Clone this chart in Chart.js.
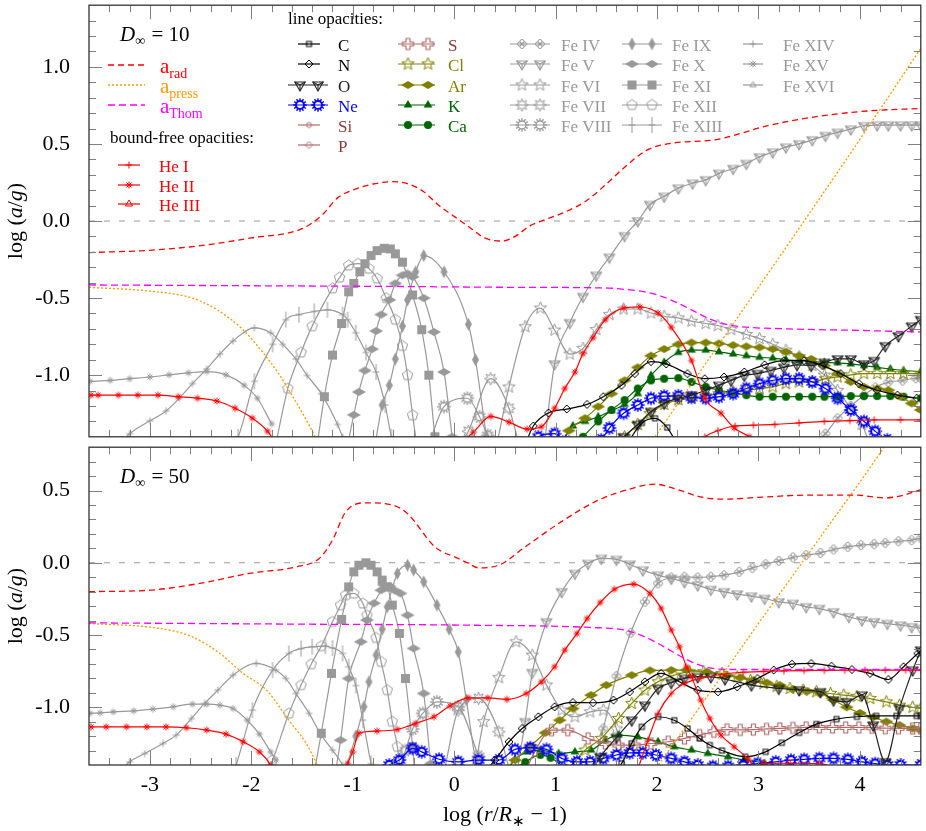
<!DOCTYPE html>
<html><head><meta charset="utf-8">
<script src="https://cdn.jsdelivr.net/npm/chart.js@4.4.0/dist/chart.umd.min.js"></script>
<style>
html,body{margin:0;padding:0;background:#fff;overflow:hidden}
#wrap{position:relative;width:926px;height:831px;background:#fff}
canvas{position:absolute;left:0}
#c1{top:0}
#c2{top:442px}
</style></head><body>
<div id="wrap"><canvas id="c1" width="926" height="442"></canvas><canvas id="c2" width="926" height="389"></canvas></div>
<script>
// ---------- tick labels / categories ----------
const xTicks = [-3,-2,-1,0,1,2,3,4];
const yTicksTop = [-1.0,-0.5,0.0,0.5,1.0];
const yTicksBot = [-1.0,-0.5,0.0,0.5];
const panelD = ['10','50'];

// ---------- TOP PANEL (D = 10) : [log(r/R*-1), log(a/g)] ----------
const top_arad = [[-3.6,-0.205],[-3.0,-0.19],[-2.5,-0.16],[-2.0,-0.11],[-1.5,-0.05],[-1.3,0.04],[-1.15,0.15],[-1.0,0.2],[-0.8,0.24],[-0.6,0.255],[-0.45,0.24],[-0.3,0.19],[-0.15,0.1],[0.0,0.03],[0.15,-0.04],[0.3,-0.11],[0.47,-0.13],[0.6,-0.1],[0.75,-0.03],[0.86,0.0],[1.1,0.06],[1.3,0.13],[1.45,0.21],[1.7,0.36],[1.9,0.46],[2.1,0.5],[2.6,0.53],[3.1,0.62],[3.6,0.68],[4.1,0.715],[4.6,0.73]];
const top_apress = [[-3.6,-0.43],[-3.0,-0.455],[-2.58,-0.5],[-2.34,-0.575],[-2.09,-0.7],[-1.89,-0.85],[-1.72,-1.0],[-1.6,-1.13],[-1.45,-1.3],[-1.33,-1.45],[0.3,null],[1.8,-1.57],[2.5,-0.905],[3.0,-0.43],[3.45,0.0],[4.0,0.53],[4.6,1.12]];
const top_athom = [[-3.6,-0.415],[-2.0,-0.42],[-0.5,-0.425],[0.5,-0.43],[1.52,-0.435],[1.7,-0.445],[1.88,-0.46],[2.05,-0.49],[2.18,-0.525],[2.35,-0.58],[2.5,-0.63],[2.65,-0.665],[2.82,-0.685],[3.3,-0.70],[4.0,-0.71],[4.6,-0.72]];
const top_HeI = [[2.4,-1.45],[2.47,-1.4],[2.6,-1.36],[2.77,-1.33],[2.95,-1.325],[3.16,-1.32],[3.4,-1.31],[3.65,-1.30],[3.9,-1.295],[4.14,-1.29],[4.4,-1.29],[4.6,-1.29]];
const top_HeII = [[-3.58,-1.13],[-3.51,-1.13],[-3.31,-1.13],[-3.12,-1.13],[-2.92,-1.13],[-2.72,-1.14],[-2.53,-1.15],[-2.34,-1.168],[-2.16,-1.215],[-1.99,-1.279],[-1.84,-1.364],[-1.75,-1.45],[-0.5,null],[0.05,-1.45],[0.19,-1.37],[0.36,-1.268],[0.54,-1.305],[0.72,-1.35],[0.86,-1.335],[0.99,-1.215],[1.09,-1.087],[1.19,-0.98],[1.27,-0.86],[1.37,-0.757],[1.49,-0.64],[1.67,-0.565],[1.83,-0.558],[2.01,-0.597],[2.14,-0.69],[2.34,-0.906],[2.47,-1.15],[2.63,-1.247],[2.76,-1.343],[2.91,-1.40],[3.0,-1.45]];
const top_C = [[1.7,-1.45],[1.85,-1.31],[1.98,-1.28],[2.1,-1.34],[2.2,-1.45]];
const top_N = [[0.7,-1.45],[0.78,-1.33],[0.93,-1.245],[1.11,-1.22],[1.31,-1.19],[1.47,-1.14],[1.65,-1.066],[1.78,-0.99],[1.94,-0.912],[2.09,-0.927],[2.3,-0.99],[2.47,-1.023],[2.66,-1.012],[2.86,-0.98],[3.06,-0.933],[3.25,-0.906],[3.45,-0.906],[3.63,-0.938],[3.81,-0.99],[3.99,-1.055],[4.17,-1.098],[4.37,-1.13],[4.56,-1.15]];
const top_O = [[1.6,-1.45],[1.67,-1.4],[1.81,-1.32],[1.94,-1.236],[2.07,-1.183],[2.21,-1.15],[2.34,-1.13],[2.48,-1.098],[2.61,-1.066],[2.73,-1.034],[2.86,-1.002],[2.99,-0.99],[3.12,-0.97],[3.25,-0.95],[3.38,-0.933],[3.52,-0.938],[3.65,-0.917],[3.78,-0.895],[3.91,-0.895],[4.04,-0.927],[4.14,-0.906],[4.25,-0.81],[4.38,-0.746],[4.51,-0.682],[4.6,-0.64]];
const top_Ne = [[0.75,-1.45],[0.83,-1.4],[0.99,-1.38],[1.1,-1.43],[1.3,-1.46],[1.45,-1.42],[1.53,-1.343],[1.67,-1.247],[1.81,-1.194],[1.94,-1.15],[2.07,-1.136],[2.21,-1.134],[2.34,-1.145],[2.48,-1.15],[2.61,-1.14],[2.75,-1.12],[2.88,-1.087],[3.01,-1.055],[3.14,-1.034],[3.27,-1.023],[3.4,-1.023],[3.53,-1.044],[3.66,-1.087],[3.78,-1.15],[3.91,-1.226],[4.04,-1.30],[4.15,-1.364],[4.27,-1.42],[4.4,-1.45]];
const top_Cl = [[1.6,-1.45],[1.68,-1.4],[1.81,-1.32],[1.93,-1.25],[2.07,-1.19],[2.21,-1.16],[2.34,-1.15],[2.48,-1.134],[2.61,-1.12],[2.75,-1.108],[2.88,-1.098],[3.01,-1.087],[3.14,-1.076],[3.27,-1.055],[3.4,-1.044],[3.53,-1.044],[3.66,-1.023],[3.78,-1.012],[3.91,-0.998],[4.04,-0.99],[4.17,-0.99],[4.3,-0.99],[4.43,-0.99],[4.6,-0.99]];
const top_Ar = [[1.05,-1.45],[1.13,-1.36],[1.29,-1.28],[1.42,-1.204],[1.55,-1.12],[1.68,-1.034],[1.81,-0.95],[1.94,-0.874],[2.07,-0.831],[2.21,-0.8],[2.34,-0.789],[2.48,-0.789],[2.61,-0.795],[2.75,-0.806],[2.88,-0.814],[3.01,-0.82],[3.14,-0.831],[3.27,-0.849],[3.4,-0.874],[3.52,-0.895],[3.65,-0.938],[3.78,-0.99],[3.91,-1.044],[4.04,-1.076],[4.17,-1.087],[4.28,-1.098],[4.4,-1.14],[4.51,-1.183],[4.6,-1.226]];
const top_K = [[1.05,-1.45],[1.17,-1.33],[1.29,-1.3],[1.42,-1.27],[1.55,-1.23],[1.68,-1.19],[1.81,-1.12],[1.94,-1.002],[2.07,-0.917],[2.21,-0.853],[2.34,-0.838],[2.48,-0.838],[2.61,-0.849],[2.75,-0.863],[2.88,-0.874],[3.01,-0.884],[3.14,-0.89],[3.27,-0.9],[3.4,-0.906],[3.53,-0.912],[3.65,-0.917],[3.78,-0.92],[3.91,-0.927],[4.04,-0.938],[4.17,-0.95],[4.3,-0.96],[4.43,-0.97],[4.6,-0.977]];
const top_Ca = [[1.2,-1.45],[1.27,-1.4],[1.42,-1.3],[1.55,-1.226],[1.68,-1.162],[1.81,-1.087],[1.94,-1.034],[2.07,-1.023],[2.21,-1.019],[2.34,-1.044],[2.48,-1.076],[2.61,-1.098],[2.75,-1.114],[2.88,-1.13],[3.01,-1.14],[3.14,-1.14],[3.27,-1.14],[3.4,-1.14],[3.53,-1.14],[3.65,-1.14],[3.78,-1.14],[3.91,-1.136],[4.04,-1.136],[4.17,-1.136],[4.3,-1.136],[4.43,-1.14],[4.6,-1.15]];
const top_FeIV = [[3.55,-1.45],[3.66,-1.38],[3.78,-1.28],[3.91,-1.2],[4.04,-1.13],[4.15,-1.08],[4.28,-1.045],[4.42,-1.035],[4.55,-1.02],[4.6,-1.02]];
const top_FeV = [[0.88,-1.5],[0.99,-0.927],[1.14,-0.66],[1.27,-0.49],[1.4,-0.352],[1.53,-0.235],[1.68,-0.096],[1.81,0.0],[1.93,0.107],[2.07,0.16],[2.21,0.213],[2.35,0.245],[2.48,0.267],[2.61,0.309],[2.75,0.34],[2.88,0.373],[3.01,0.415],[3.14,0.447],[3.27,0.479],[3.4,0.5],[3.53,0.526],[3.66,0.554],[3.78,0.575],[3.91,0.596],[4.04,0.618],[4.17,0.622],[4.28,0.622],[4.4,0.622],[4.51,0.622],[4.6,0.622]];
const top_FeVI = [[0.42,-1.45],[0.54,-1.077],[0.7,-0.686],[0.85,-0.565],[0.99,-0.708],[1.14,-0.863],[1.27,-0.827],[1.4,-0.704],[1.53,-0.607],[1.67,-0.571],[1.81,-0.571],[1.94,-0.597],[2.07,-0.618],[2.21,-0.629],[2.34,-0.65],[2.48,-0.665],[2.6,-0.678],[2.73,-0.704],[2.88,-0.736],[3.01,-0.763],[3.14,-0.8],[3.27,-0.838],[3.4,-0.88],[3.53,-0.938],[3.65,-1.0],[3.78,-1.1],[3.91,-1.215],[4.02,-1.32],[4.1,-1.45]];
const top_FeVII = [[0.05,-1.45],[0.14,-1.364],[0.36,-1.023],[0.54,-1.215],[0.64,-1.45]];
const top_FeVIII = [[-0.25,-1.45],[-0.1,-1.204],[0.13,-1.15],[0.25,-1.27],[0.33,-1.39],[0.38,-1.45]];
const top_FeIX = [[-0.78,-1.45],[-0.71,-1.194],[-0.64,-1.066],[-0.58,-0.895],[-0.51,-0.682],[-0.46,-0.512],[-0.38,-0.33],[-0.3,-0.224],[-0.1,-0.33],[0.14,-0.67],[0.21,-0.9],[0.32,-1.4],[0.35,-1.5]];
const top_FeX = [[-1.05,-1.45],[-0.99,-1.258],[-0.94,-1.109],[-0.88,-0.97],[-0.81,-0.831],[-0.77,-0.714],[-0.72,-0.607],[-0.64,-0.512],[-0.58,-0.405],[-0.51,-0.352],[-0.46,-0.341],[-0.41,-0.363],[-0.3,-0.5],[-0.2,-0.72],[-0.1,-0.98],[-0.02,-1.4],[0.0,-1.5]];
const top_FeXI = [[-1.35,-1.45],[-1.28,-1.14],[-1.2,-0.87],[-1.11,-0.665],[-1.04,-0.459],[-0.99,-0.405],[-0.93,-0.33],[-0.88,-0.277],[-0.82,-0.224],[-0.76,-0.192],[-0.69,-0.177],[-0.63,-0.181],[-0.58,-0.213],[-0.51,-0.267],[-0.41,-0.48],[-0.32,-0.705],[-0.25,-1.0],[-0.19,-1.4],[-0.17,-1.5]];
const top_FeXII = [[-1.76,-1.45],[-1.64,-1.087],[-1.51,-0.853],[-1.4,-0.682],[-1.2,-0.437],[-1.13,-0.367],[-1.04,-0.288],[-0.95,-0.277],[-0.84,-0.309],[-0.76,-0.373],[-0.67,-0.5],[-0.58,-0.64],[-0.51,-0.81],[-0.46,-1.0],[-0.41,-1.26],[-0.37,-1.45]];
const top_FeXIII = [[-2.2,-1.45],[-2.13,-1.4],[-1.97,-1.04],[-1.79,-0.8],[-1.66,-0.64],[-1.53,-0.607],[-1.38,-0.587],[-1.25,-0.576],[-1.1,-0.607],[-1.05,-0.64],[-0.97,-0.725],[-0.87,-0.853],[-0.77,-0.98],[-0.68,-1.194],[-0.62,-1.4],[-0.6,-1.45]];
const top_FeXIV = [[-3.3,-1.45],[-3.2,-1.38],[-3.0,-1.296],[-2.84,-1.232],[-2.71,-1.15],[-2.58,-1.055],[-2.44,-0.96],[-2.31,-0.863],[-2.18,-0.778],[-1.97,-0.693],[-1.81,-0.725],[-1.69,-0.8],[-1.56,-0.895],[-1.45,-1.002],[-1.31,-1.12],[-1.15,-1.32],[-1.1,-1.4],[-1.07,-1.45]];
const top_FeXV = [[-3.59,-1.04],[-3.39,-1.034],[-3.2,-1.023],[-3.0,-1.012],[-2.81,-0.998],[-2.62,-0.985],[-2.44,-0.977],[-2.25,-0.998],[-2.07,-1.066],[-1.94,-1.15],[-1.8,-1.316]];

// ---------- BOTTOM PANEL (D = 50) ----------
const bot_arad = [[-3.6,-0.2],[-3.0,-0.19],[-2.51,-0.143],[-2.02,-0.074],[-1.53,-0.024],[-1.33,0.03],[-1.2,0.156],[-1.07,0.352],[-0.87,0.415],[-0.61,0.40],[-0.46,0.34],[-0.19,0.11],[0.04,0.03],[0.13,0.0],[0.24,-0.035],[0.44,-0.017],[0.7,0.11],[1.03,0.272],[1.42,0.433],[1.75,0.514],[1.98,0.544],[2.17,0.514],[2.43,0.456],[2.66,0.44],[2.99,0.452],[3.48,0.468],[3.97,0.468],[4.24,0.449],[4.43,0.468],[4.6,0.507]];
const bot_apress = [[-3.6,-0.42],[-2.9,-0.455],[-2.58,-0.513],[-2.31,-0.628],[-2.08,-0.766],[-1.85,-0.882],[-1.63,-1.09],[-1.46,-1.25],[-1.35,-1.4],[-1.3,-1.48],[0.3,null],[1.9,-1.51],[2.5,-0.92],[3.0,-0.42],[3.5,0.07],[4.0,0.56],[4.3,0.86]];
const bot_athom = [[-3.6,-0.416],[-1.5,-0.425],[0.14,-0.432],[1.35,-0.448],[1.68,-0.466],[1.88,-0.513],[2.07,-0.582],[2.27,-0.662],[2.47,-0.72],[2.73,-0.739],[3.32,-0.739],[4.6,-0.739]];
const bot_HeI = [[1.8,-1.45],[1.91,-1.228],[2.01,-1.043],[2.14,-0.905],[2.27,-0.836],[2.43,-0.8],[2.66,-0.77],[2.85,-0.758],[3.05,-0.752],[3.25,-0.748],[3.45,-0.746],[3.65,-0.745],[3.85,-0.744],[4.05,-0.744],[4.25,-0.743],[4.45,-0.743],[4.6,-0.743]];
const bot_HeII = [[-3.58,-1.136],[-3.43,-1.136],[-3.23,-1.136],[-3.03,-1.136],[-2.84,-1.136],[-2.64,-1.142],[-2.44,-1.158],[-2.25,-1.186],[-2.08,-1.239],[-1.92,-1.309],[-1.81,-1.4],[-1.78,-1.45],[-1.4,null],[-1.08,-1.45],[-1.05,-1.39],[-1.0,-1.309],[-0.94,-1.18],[-0.76,-1.165],[-0.56,-1.154],[-0.38,-1.112],[-0.2,-1.066],[-0.04,-0.99],[0.14,-0.935],[0.33,-0.935],[0.52,-0.946],[0.71,-0.905],[0.86,-0.824],[0.99,-0.72],[1.09,-0.605],[1.21,-0.49],[1.31,-0.386],[1.44,-0.275],[1.58,-0.183],[1.77,-0.148],[1.93,-0.213],[2.04,-0.316],[2.14,-0.466],[2.22,-0.582],[2.29,-0.72],[2.34,-0.79],[2.43,-0.951],[2.52,-1.078],[2.63,-1.193],[2.76,-1.274],[2.9,-1.36],[3.0,-1.45]];
const bot_HeIII = [[2.9,-1.45],[3.05,-1.39],[3.3,-1.388],[3.6,-1.39],[3.85,-1.45]];
const bot_C = [[1.55,-1.45],[1.65,-1.39],[1.75,-1.25],[1.85,-1.136],[2.01,-1.066],[2.17,-1.09],[2.3,-1.147],[2.42,-1.216],[2.52,-1.262],[2.64,-1.3],[2.87,-1.343],[3.07,-1.309],[3.23,-1.246],[3.4,-1.177],[3.57,-1.117],[3.77,-1.082],[3.97,-1.066],[4.16,-1.06],[4.36,-1.06],[4.56,-1.06],[4.6,-1.06]];
const bot_N = [[0.3,-1.45],[0.4,-1.366],[0.54,-1.239],[0.67,-1.147],[0.83,-1.066],[0.99,-0.997],[1.17,-0.967],[1.37,-0.969],[1.57,-0.951],[1.73,-0.893],[1.88,-0.824],[2.04,-0.766],[2.22,-0.824],[2.4,-0.882],[2.6,-0.893],[2.79,-0.859],[2.99,-0.801],[3.15,-0.743],[3.33,-0.702],[3.52,-0.697],[3.72,-0.716],[3.92,-0.739],[4.1,-0.766],[4.28,-0.808],[4.43,-0.72],[4.57,-0.628],[4.6,-0.61]];
const bot_O = [[1.35,-1.45],[1.44,-1.343],[1.6,-1.21],[1.75,-1.09],[1.88,-0.986],[2.01,-0.87],[2.14,-0.83],[2.27,-0.8],[2.4,-0.79],[2.53,-0.79],[2.67,-0.805],[2.93,-0.847],[3.2,-0.87],[3.4,-0.88],[3.61,-0.893],[3.74,-0.951],[3.87,-0.963],[4.02,-0.916],[4.13,-1.124],[4.25,-1.378],[4.39,-1.008],[4.52,-0.743],[4.6,-0.605]];
const bot_Ne = [[-0.7,-1.45],[-0.64,-1.4],[-0.54,-1.366],[-0.41,-1.285],[-0.32,-1.309],[-0.15,-1.36],[0.04,-1.378],[0.24,-1.366],[0.44,-1.366],[0.6,-1.292],[0.75,-1.28],[0.91,-1.292],[1.06,-1.354],[1.21,-1.378],[1.34,-1.378],[1.47,-1.354],[1.6,-1.331],[1.73,-1.316],[1.86,-1.316],[1.99,-1.331],[2.14,-1.354],[2.27,-1.378],[2.4,-1.4],[2.55,-1.41],[2.7,-1.41],[2.85,-1.4],[2.99,-1.39],[3.17,-1.378],[3.32,-1.366],[3.45,-1.361],[3.6,-1.354],[3.74,-1.354],[3.88,-1.361],[4.02,-1.378],[4.15,-1.39],[4.27,-1.4],[4.4,-1.4],[4.6,-1.4]];
const bot_S = [[0.7,-1.45],[0.8,-1.3],[0.96,-1.159],[1.12,-1.159],[1.32,-1.216],[1.49,-1.251],[1.62,-1.262],[1.78,-1.262],[1.94,-1.251],[2.11,-1.239],[2.27,-1.216],[2.42,-1.193],[2.56,-1.17],[2.69,-1.155],[2.82,-1.157],[2.95,-1.155],[3.08,-1.15],[3.21,-1.147],[3.34,-1.143],[3.47,-1.14],[3.6,-1.14],[3.73,-1.14],[3.86,-1.14],[3.99,-1.14],[4.12,-1.142],[4.25,-1.145],[4.38,-1.146],[4.52,-1.147],[4.6,-1.147]];
const bot_Cl = [[1.1,-1.45],[1.29,-1.297],[1.45,-1.216],[1.62,-1.078],[1.75,-0.974],[1.88,-0.882],[2.01,-0.824],[2.17,-0.778],[2.32,-0.755],[2.46,-0.755],[2.64,-0.766],[2.79,-0.79],[2.92,-0.815],[3.05,-0.836],[3.18,-0.855],[3.31,-0.87],[3.44,-0.882],[3.57,-0.893],[3.71,-0.905],[3.84,-0.916],[3.97,-0.925],[4.1,-0.94],[4.26,-0.963],[4.39,-0.986],[4.52,-1.0],[4.6,-1.01]];
const bot_Ar = [[0.5,-1.45],[0.6,-1.366],[0.75,-1.27],[0.9,-1.177],[1.04,-1.09],[1.17,-1.009],[1.35,-0.916],[1.5,-0.847],[1.75,-0.778],[1.93,-0.745],[2.14,-0.743],[2.29,-0.743],[2.49,-0.755],[2.69,-0.78],[2.82,-0.795],[2.95,-0.812],[3.08,-0.83],[3.21,-0.847],[3.34,-0.875],[3.48,-0.89],[3.61,-0.905],[3.74,-0.95],[3.87,-1.0],[4.0,-1.04],[4.13,-1.07],[4.26,-1.1],[4.39,-1.124],[4.52,-1.147],[4.6,-1.16]];
const bot_K = [[0.5,-1.45],[0.6,-1.36],[0.72,-1.31],[0.85,-1.297],[1.03,-1.32],[1.19,-1.309],[1.35,-1.297],[1.49,-1.228],[1.62,-1.193],[1.81,-1.205],[2.01,-1.239],[2.17,-1.274],[2.34,-1.297],[2.5,-1.32],[2.7,-1.343],[2.86,-1.366],[3.06,-1.39],[3.2,-1.45]];
const bot_Ca = [[0.55,-1.45],[0.7,-1.38],[0.85,-1.33],[0.95,-1.35],[1.1,-1.42],[1.25,-1.45]];
const bot_FeIV = [[1.35,-1.45],[1.47,-1.147],[1.6,-0.785],[1.74,-0.485],[1.88,-0.27],[2.01,-0.143],[2.14,-0.102],[2.27,-0.097],[2.4,-0.102],[2.53,-0.097],[2.66,-0.086],[2.81,-0.063],[2.94,-0.035],[3.07,-0.01],[3.2,0.013],[3.34,0.037],[3.47,0.053],[3.61,0.068],[3.74,0.092],[3.88,0.11],[4.01,0.122],[4.14,0.129],[4.25,0.138],[4.38,0.149],[4.51,0.156],[4.6,0.17]];
const bot_FeV = [[0.62,-1.45],[0.7,-1.1],[0.77,-0.76],[0.91,-0.409],[1.06,-0.201],[1.19,-0.074],[1.32,-0.005],[1.45,0.03],[1.6,0.023],[1.73,-0.01],[1.86,-0.051],[2.01,-0.086],[2.14,-0.109],[2.27,-0.132],[2.4,-0.155],[2.53,-0.185],[2.66,-0.201],[2.79,-0.217],[2.93,-0.231],[3.06,-0.247],[3.2,-0.271],[3.34,-0.282],[3.47,-0.305],[3.6,-0.317],[3.74,-0.34],[3.89,-0.374],[4.02,-0.397],[4.14,-0.409],[4.27,-0.421],[4.4,-0.432],[4.51,-0.443],[4.6,-0.455]];
const bot_FeVI = [[0.2,-1.45],[0.29,-1.1],[0.44,-0.795],[0.61,-0.547],[0.77,-0.64],[0.91,-0.847],[1.06,-1.02],[1.19,-1.066],[1.34,-1.032],[1.47,-1.02],[1.6,-1.15],[1.7,-1.45]];
const bot_FeVII = [[-0.1,-1.45],[0.04,-1.02],[0.24,-0.939],[0.44,-1.17],[0.55,-1.45]];
const bot_FeVIII = [[-0.55,-1.45],[-0.48,-1.3],[-0.41,-1.15],[-0.31,-1.043],[-0.17,-0.963],[0.04,-0.997],[0.24,-1.34],[0.3,-1.45]];
const bot_FeIX = [[-1.08,-1.45],[-0.97,-1.2],[-0.89,-0.997],[-0.84,-0.824],[-0.77,-0.639],[-0.71,-0.46],[-0.66,-0.305],[-0.56,-0.074],[-0.46,-0.017],[-0.4,-0.05],[-0.3,-0.132],[-0.17,-0.293],[-0.05,-0.46],[0.04,-0.617],[0.12,-0.95],[0.21,-1.366],[0.24,-1.45]];
const bot_FeX = [[-1.17,-1.45],[-1.12,-1.228],[-1.04,-0.801],[-0.92,-0.547],[-0.86,-0.397],[-0.79,-0.28],[-0.72,-0.19],[-0.69,-0.155],[-0.64,-0.16],[-0.59,-0.19],[-0.53,-0.212],[-0.46,-0.363],[-0.4,-0.593],[-0.3,-0.905],[-0.23,-1.39],[-0.21,-1.45]];
const bot_FeXI = [[-1.38,-1.45],[-1.31,-1.18],[-1.21,-0.766],[-1.11,-0.392],[-1.04,-0.167],[-0.99,-0.063],[-0.94,-0.017],[-0.87,0.0],[-0.82,-0.017],[-0.76,-0.063],[-0.71,-0.12],[-0.66,-0.167],[-0.61,-0.293],[-0.54,-0.489],[-0.48,-0.801],[-0.41,-1.274],[-0.39,-1.45]];
const bot_FeXII = [[-1.85,-1.45],[-1.79,-1.366],[-1.63,-1.043],[-1.51,-0.847],[-1.41,-0.702],[-1.31,-0.577],[-1.2,-0.409],[-1.12,-0.294],[-1.07,-0.224],[-0.99,-0.212],[-0.9,-0.282],[-0.86,-0.363],[-0.77,-0.52],[-0.72,-0.686],[-0.66,-0.882],[-0.61,-1.1],[-0.56,-1.274],[-0.53,-1.45]];
const bot_FeXIII = [[-2.18,-1.45],[-2.15,-1.4],[-1.99,-1.02],[-1.79,-0.743],[-1.63,-0.628],[-1.51,-0.594],[-1.4,-0.582],[-1.27,-0.577],[-1.2,-0.59],[-1.1,-0.628],[-1.04,-0.72],[-0.97,-0.85],[-0.9,-1.09],[-0.82,-1.39],[-0.8,-1.45]];
const bot_FeXIV = [[-3.3,-1.45],[-3.2,-1.378],[-3.05,-1.32],[-2.87,-1.251],[-2.74,-1.193],[-2.59,-1.078],[-2.46,-0.974],[-2.33,-0.882],[-2.18,-0.778],[-1.95,-0.697],[-1.76,-0.743],[-1.66,-0.801],[-1.56,-0.905],[-1.43,-1.043],[-1.31,-1.193],[-1.2,-1.297],[-1.1,-1.4],[-1.07,-1.45]];
const bot_FeXV = [[-3.59,-1.042],[-3.49,-1.039],[-3.36,-1.032],[-3.16,-1.025],[-2.97,-1.013],[-2.77,-0.997],[-2.58,-0.979],[-2.44,-0.979],[-2.31,-0.986],[-2.18,-1.009],[-2.04,-1.09],[-1.92,-1.186],[-1.81,-1.309],[-1.76,-1.366]];

// ---------- marker glyphs ----------
function mk(sz, fn){const c=document.createElement('canvas');c.width=sz;c.height=sz;const g=c.getContext('2d');g.translate(sz/2,sz/2);fn(g);return c;}
function path(g,pts){g.beginPath();pts.forEach((p,i)=>i?g.lineTo(p[0],p[1]):g.moveTo(p[0],p[1]));g.closePath();}
function regPts(n,r,rot){const a=[];for(let i=0;i<n;i++){const t=rot+i*2*Math.PI/n;a.push([r*Math.cos(t),r*Math.sin(t)]);}return a;}
function starPts(n,r1,r2){const a=[];for(let i=0;i<2*n;i++){const r=i%2?r2:r1;const t=-Math.PI/2+i*Math.PI/n;a.push([r*Math.cos(t),r*Math.sin(t)]);}return a;}
const sqO=(c,s)=>mk(s+4,g=>{g.strokeStyle=c;g.lineWidth=1;g.strokeRect(-s/2,-s/2,s,s);});
const sqF=(c,s)=>mk(s+2,g=>{g.fillStyle=c;g.fillRect(-s/2,-s/2,s,s);});
const diaO=(c,w,h)=>mk(Math.max(w,h)+4,g=>{g.strokeStyle=c;g.lineWidth=1;path(g,[[0,-h/2],[w/2,0],[0,h/2],[-w/2,0]]);g.stroke();});
const diaF=(c,w,h)=>mk(Math.max(w,h)+2,g=>{g.fillStyle=c;path(g,[[0,-h/2],[w/2,0],[0,h/2],[-w/2,0]]);g.fill();});
const circO=(c,r)=>mk(2*r+4,g=>{g.strokeStyle=c;g.lineWidth=1;g.beginPath();g.arc(0,0,r,0,7);g.stroke();});
const circF=(c,r)=>mk(2*r+2,g=>{g.fillStyle=c;g.beginPath();g.arc(0,0,r,0,7);g.fill();});
const triF=(c,r)=>mk(2*r+2,g=>{g.fillStyle=c;path(g,regPts(3,r,-Math.PI/2));g.fill();});
const triO=(c,r)=>mk(2*r+4,g=>{g.strokeStyle=c;g.lineWidth=1;path(g,regPts(3,r,-Math.PI/2));g.stroke();});
const triY=(c,r)=>mk(2*r+4,g=>{g.strokeStyle=c;g.lineWidth=1.1;const p=regPts(3,r,Math.PI/2);path(g,p);g.stroke();g.beginPath();p.forEach(q=>{g.moveTo(0,0);g.lineTo(q[0],q[1]);});g.stroke();});
const pentO=(c,r)=>mk(2*r+4,g=>{g.strokeStyle=c;g.lineWidth=1;path(g,regPts(5,r,-Math.PI/2));g.stroke();});
const starO=(c,n,r1,r2)=>mk(2*r1+4,g=>{g.strokeStyle=c;g.lineWidth=1;path(g,starPts(n,r1,r2));g.stroke();});
const plus=(c,s)=>mk(s+3,g=>{g.strokeStyle=c;g.lineWidth=1;g.beginPath();g.moveTo(-s/2,0);g.lineTo(s/2,0);g.moveTo(0,-s/2);g.lineTo(0,s/2);g.stroke();});
const aster=(c,s)=>mk(s+3,g=>{g.strokeStyle=c;g.lineWidth=1;const h=s/2,d=h*0.7;g.beginPath();g.moveTo(-h,0);g.lineTo(h,0);g.moveTo(0,-h);g.lineTo(0,h);g.moveTo(-d,-d);g.lineTo(d,d);g.moveTo(-d,d);g.lineTo(d,-d);g.stroke();});
const tallPlus=c=>mk(20,g=>{g.strokeStyle=c;g.lineWidth=1;g.beginPath();g.moveTo(0,-8);g.lineTo(0,8);g.moveTo(-3.5,0);g.lineTo(3.5,0);g.stroke();});
const gear=(c,lw)=>mk(16,g=>{g.strokeStyle=c;g.lineWidth=lw;g.beginPath();g.arc(0,0,4,0,7);g.stroke();g.lineWidth=1.4;g.beginPath();for(let i=0;i<12;i++){const t=i*Math.PI/6;g.moveTo(4.5*Math.cos(t),4.5*Math.sin(t));g.lineTo(6.8*Math.cos(t),6.8*Math.sin(t));}g.stroke();});
const quatre=c=>mk(14,g=>{g.strokeStyle=c;g.lineWidth=1;[[2.4,0],[-2.4,0],[0,2.4],[0,-2.4]].forEach(([x,y])=>{g.beginPath();g.arc(x,y,2.1,0,7);g.stroke();});});
const openPlus=c=>mk(15,g=>{g.strokeStyle=c;g.lineWidth=1.2;const a=2,b=5.5;path(g,[[-a,-b],[a,-b],[a,-a],[b,-a],[b,a],[a,a],[a,b],[-a,b],[-a,a],[-b,a],[-b,-a],[-a,-a]]);g.stroke();});

const RED='#ff0000',ORANGE='#ff9900',MAG='#ff00ff',GRAY='#999999',BLK='#000000',BLUE='#0000ff',MAROON='#8b3a3a',ROSE='#b06a6a',OLIVE='#808000',DGREEN='#006400';
const FONT='"Liberation Serif", "Times New Roman", serif';

const STY = {
 arad:{c:RED,dash:[6,4],w:1.3,name:['a','rad']}, apress:{c:ORANGE,dash:[2,2],w:1.3,name:['a','press']}, athom:{c:MAG,dash:[7,4],w:1.3,name:['a','Thom']},
 HeI:{c:RED,m:plus(RED,7),name:'He I'}, HeII:{c:RED,m:aster(RED,7),name:'He II'}, HeIII:{c:RED,m:triO(RED,4),name:'He III'},
 C:{c:BLK,m:sqO(BLK,5),name:'C'}, N:{c:BLK,m:diaO(BLK,8,8),name:'N'}, O:{c:'#222',m:triY('#222',6),name:'O'},
 Ne:{c:BLUE,m:gear(BLUE,2),name:'Ne'}, Si:{c:ROSE,m:circO(ROSE,2.5),name:'Si',tc:MAROON}, P:{c:ROSE,m:diaO(ROSE,7,7),name:'P',tc:MAROON},
 S:{c:ROSE,m:openPlus(ROSE),name:'S',tc:MAROON}, Cl:{c:OLIVE,m:starO(OLIVE,5,6.5,2.8),name:'Cl'}, Ar:{c:OLIVE,m:diaF(OLIVE,14,8),name:'Ar'},
 K:{c:DGREEN,m:triF(DGREEN,5),name:'K'}, Ca:{c:DGREEN,m:circF(DGREEN,4),name:'Ca'},
 FeIV:{c:GRAY,m:quatre(GRAY),name:'Fe IV'}, FeV:{c:GRAY,m:triY(GRAY,6),name:'Fe V'}, FeVI:{c:GRAY,m:starO(GRAY,5,6.5,2.8),name:'Fe VI'},
 FeVII:{c:GRAY,m:starO(GRAY,8,6.5,3.2),name:'Fe VII'}, FeVIII:{c:GRAY,m:gear(GRAY,1.5),name:'Fe VIII'}, FeIX:{c:GRAY,m:diaF(GRAY,7,13),name:'Fe IX'},
 FeX:{c:GRAY,m:diaF(GRAY,14,8),name:'Fe X'}, FeXI:{c:GRAY,m:sqF(GRAY,9),name:'Fe XI'}, FeXII:{c:GRAY,m:pentO(GRAY,5.5),name:'Fe XII'},
 FeXIII:{c:GRAY,m:tallPlus(GRAY),name:'Fe XIII'}, FeXIV:{c:GRAY,m:plus(GRAY,7),name:'Fe XIV'}, FeXV:{c:GRAY,m:aster(GRAY,7),name:'Fe XV'}, FeXVI:{c:GRAY,m:triO(GRAY,3.5),name:'Fe XVI'}
};

// legend layout (top panel only)
const R=[44,64,85,105,125,145];
const LEG=[
 {k:'arad',x1:108,x2:145,y:65,m:[],tx:160},{k:'apress',x1:108,x2:145,y:85,m:[],tx:160},{k:'athom',x1:108,x2:145,y:105,m:[],tx:160},
 {k:'HeI',x1:118,x2:140,y:165,m:[129],tx:159},{k:'HeII',x1:118,x2:140,y:185,m:[129],tx:159},{k:'HeIII',x1:118,x2:140,y:204,m:[129],tx:159},
 {k:'C',x1:298,x2:320,y:R[0],m:[309],tx:338},{k:'N',x1:298,x2:320,y:R[1],m:[309],tx:338},{k:'O',x1:288,x2:328,y:R[2],m:[300,318],tx:338},
 {k:'Ne',x1:288,x2:328,y:R[3],m:[300,318],tx:338},{k:'Si',x1:298,x2:320,y:R[4],m:[309],tx:338},{k:'P',x1:298,x2:320,y:R[5],m:[309],tx:338},
 {k:'S',x1:398,x2:435,y:R[0],m:[408,428],tx:448},{k:'Cl',x1:398,x2:435,y:R[1],m:[408,428],tx:448},{k:'Ar',x1:398,x2:435,y:R[2],m:[408,428],tx:448},
 {k:'K',x1:398,x2:435,y:R[3],m:[408,428],tx:448},{k:'Ca',x1:398,x2:435,y:R[4],m:[408,428],tx:448},
 {k:'FeIV',x1:510,x2:550,y:R[0],m:[522,540],tx:561},{k:'FeV',x1:510,x2:550,y:R[1],m:[522,540],tx:561},{k:'FeVI',x1:510,x2:550,y:R[2],m:[522,540],tx:561},
 {k:'FeVII',x1:510,x2:550,y:R[3],m:[522,540],tx:561},{k:'FeVIII',x1:510,x2:550,y:R[4],m:[522,540],tx:561},
 {k:'FeIX',x1:622,x2:662,y:R[0],m:[632,652],tx:672},{k:'FeX',x1:622,x2:662,y:R[1],m:[632,652],tx:672},{k:'FeXI',x1:622,x2:662,y:R[2],m:[632,652],tx:672},
 {k:'FeXII',x1:622,x2:662,y:R[3],m:[632,652],tx:672},{k:'FeXIII',x1:622,x2:662,y:R[4],m:[632,652],tx:672},
 {k:'FeXIV',x1:743,x2:763,y:R[0],m:[753],tx:783},{k:'FeXV',x1:743,x2:763,y:R[1],m:[753],tx:783},{k:'FeXVI',x1:743,x2:763,y:R[2],m:[753],tx:783}
];

const TOP=[['arad',top_arad],['athom',top_athom],['apress',top_apress],['HeI',top_HeI],['HeII',top_HeII],['C',top_C],['N',top_N],['O',top_O],['Ne',top_Ne],['Cl',top_Cl],['Ar',top_Ar],['K',top_K],['Ca',top_Ca],
 ['FeIV',top_FeIV],['FeV',top_FeV],['FeVI',top_FeVI],['FeVII',top_FeVII],['FeVIII',top_FeVIII],['FeIX',top_FeIX],['FeX',top_FeX],['FeXI',top_FeXI],['FeXII',top_FeXII],['FeXIII',top_FeXIII],['FeXIV',top_FeXIV],['FeXV',top_FeXV]];
const BOT=[['arad',bot_arad],['athom',bot_athom],['apress',bot_apress],['HeI',bot_HeI],['HeII',bot_HeII],['HeIII',bot_HeIII],['C',bot_C],['N',bot_N],['O',bot_O],['Ne',bot_Ne],['S',bot_S],['Cl',bot_Cl],['Ar',bot_Ar],['K',bot_K],['Ca',bot_Ca],
 ['FeIV',bot_FeIV],['FeV',bot_FeV],['FeVI',bot_FeVI],['FeVII',bot_FeVII],['FeVIII',bot_FeVIII],['FeIX',bot_FeIX],['FeX',bot_FeX],['FeXI',bot_FeXI],['FeXII',bot_FeXII],['FeXIII',bot_FeXIII],['FeXIV',bot_FeXIV],['FeXV',bot_FeXV]];

function txt(ctx,s,x,y,font,col){ctx.font=font;ctx.fillStyle=col;ctx.textAlign='left';ctx.textBaseline='alphabetic';ctx.fillText(s,x,y);return ctx.measureText(s).width;}
// draw a run of [text, font] pieces centred on cx
function runs(ctx,parts,cx,y,col){ctx.save();let w=0;for(const p of parts){ctx.font=p[1];w+=ctx.measureText(p[0]).width;}let x=cx-w/2;for(const p of parts){x+=txt(ctx,p[0],x,y+(p[2]||0),p[1],col);}ctx.restore();}

function drawLegend(ctx){
 ctx.save();
 for(const e of LEG){
  const s=STY[e.k];
  ctx.strokeStyle=s.c;ctx.lineWidth=s.w||1.2;ctx.setLineDash(s.dash||[]);
  ctx.beginPath();ctx.moveTo(e.x1,e.y);ctx.lineTo(e.x2,e.y);ctx.stroke();ctx.setLineDash([]);
  if(s.m) for(const mx of e.m) ctx.drawImage(s.m,mx-s.m.width/2,e.y-s.m.height/2);
  const col=s.tc||s.c;
  if(Array.isArray(s.name)){
   const w=txt(ctx,s.name[0],e.tx,e.y+8,'21px '+FONT,col);
   txt(ctx,s.name[1],e.tx+w,e.y+13,'14px '+FONT,col);
  } else txt(ctx,s.name,e.tx,e.y+7,'17px '+FONT,col);
 }
 txt(ctx,'bound-free opacities:',110,143,'17px '+FONT,'#000');
 txt(ctx,'line opacities:',288,24,'17px '+FONT,'#000');
 ctx.restore();
}

function framePlugin(d,isBottom,ymin,ymax){return{
 id:'frame',
 beforeDatasetsDraw(chart){const {ctx,chartArea:a,scales:{y}}=chart;const py=y.getPixelForValue(0);
  ctx.save();ctx.strokeStyle='#999';ctx.lineWidth=1.2;ctx.setLineDash([6,9]);ctx.beginPath();ctx.moveTo(a.left,py);ctx.lineTo(a.right,py);ctx.stroke();ctx.restore();},
 afterDatasetsDraw(chart){
  const {ctx,chartArea:a,scales:{x,y}}=chart;
  ctx.save();ctx.strokeStyle='#808080';ctx.lineWidth=1;ctx.beginPath();
  for(let i=-18;i<=23;i++){const v=i/5;const px=Math.round(x.getPixelForValue(v))+0.5;if(px<=a.left+1||px>=a.right-1)continue;const L=(i%5===0)?14:7;
   ctx.moveTo(px,a.bottom);ctx.lineTo(px,a.bottom-L);ctx.moveTo(px,a.top);ctx.lineTo(px,a.top+L);}
  for(let i=Math.round(ymin*10);i<=Math.round(ymax*10);i++){const py=Math.round(y.getPixelForValue(i/10))+0.5;if(py<=a.top+1||py>=a.bottom-1)continue;const L=(i%5===0)?13:7;
   ctx.moveTo(a.left,py);ctx.lineTo(a.left+L,py);ctx.moveTo(a.right,py);ctx.lineTo(a.right-L,py);}
  ctx.stroke();
  ctx.strokeStyle='#333';ctx.lineWidth=1.3;ctx.strokeRect(a.left,a.top,a.right-a.left,a.bottom-a.top);
  const base=a.top+36;let tx=120;
  tx+=txt(ctx,'D',tx,base,'italic 21px '+FONT,'#000');
  tx+=txt(ctx,'∞',tx,base+4,'14px '+FONT,'#000');
  txt(ctx,' = '+d,tx+1,base,'21px '+FONT,'#000');
  // axis titles
  const F='22px '+FONT, FI='italic 22px '+FONT, FS='15px '+FONT;
  ctx.save();ctx.translate(22,(a.top+a.bottom)/2);ctx.rotate(-Math.PI/2);
  runs(ctx,[['log (',F],['a',FI],['/',F],['g',FI],[')',F]],0,0,'#000');ctx.restore();
  if(isBottom){runs(ctx,[['log (',F],['r',FI],['/',F],['R',FI],['∗',FS,5],[' − 1)',F]],(a.left+a.right)/2,a.bottom+56,'#000');}
  else drawLegend(ctx);
  ctx.restore();
 }
};}

function makeChart(id,series,ymin,ymax,yTicks,isBottom,d){
 const datasets=series.map(([k,pts])=>{const s=STY[k];return{
  label:k,data:pts.map(p=>({x:p[0],y:p[1]})),showLine:true,borderColor:s.c,backgroundColor:s.c,
  borderWidth:s.w||1.2,borderDash:s.dash||[],pointStyle:s.m||'circle',pointRadius:s.m?4:0,pointHoverRadius:s.m?4:0,
  cubicInterpolationMode:'monotone',spanGaps:false,fill:false};});
 const tickFont={family:FONT,size:22};
 return new Chart(document.getElementById(id),{
  type:'scatter',data:{datasets},
  options:{responsive:false,animation:false,events:[],
   layout:{padding:isBottom?{left:0,right:2,top:5,bottom:0}:{left:0,right:2,top:1,bottom:3}},
   plugins:{legend:{display:false},tooltip:{enabled:false}},
   scales:{
    x:{type:'linear',min:-3.6,max:4.6,display:isBottom,grid:{display:false,drawTicks:false},border:{display:false},
     afterBuildTicks:s=>{s.ticks=xTicks.map(v=>({value:v}));},
     afterFit:s=>{if(isBottom){s.height=66;}s.paddingLeft=0;s.paddingRight=0;},
     ticks:{autoSkip:false,maxRotation:0,padding:7,color:'#000',font:tickFont,callback:v=>String(v)},
     title:{display:false,text:'log (r/R∗ − 1)'}},
    y:{type:'linear',min:ymin,max:ymax,grid:{display:false,drawTicks:false},border:{display:false},
     afterBuildTicks:s=>{s.ticks=yTicks.map(v=>({value:v}));},
     afterFit:s=>{s.width=89;s.paddingTop=0;s.paddingBottom=0;},
     ticks:{autoSkip:false,padding:19,color:'#000',font:tickFont,callback:v=>Number(v).toFixed(1)},
     title:{display:false,text:'log (a/g)'}}
   }},
  plugins:[framePlugin(d,isBottom,ymin,ymax)]
 });
}
makeChart('c1',TOP,-1.4,1.4,yTicksTop,false,panelD[0]);
makeChart('c2',BOT,-1.4,0.8,yTicksBot,true,panelD[1]);
</script></body></html>
